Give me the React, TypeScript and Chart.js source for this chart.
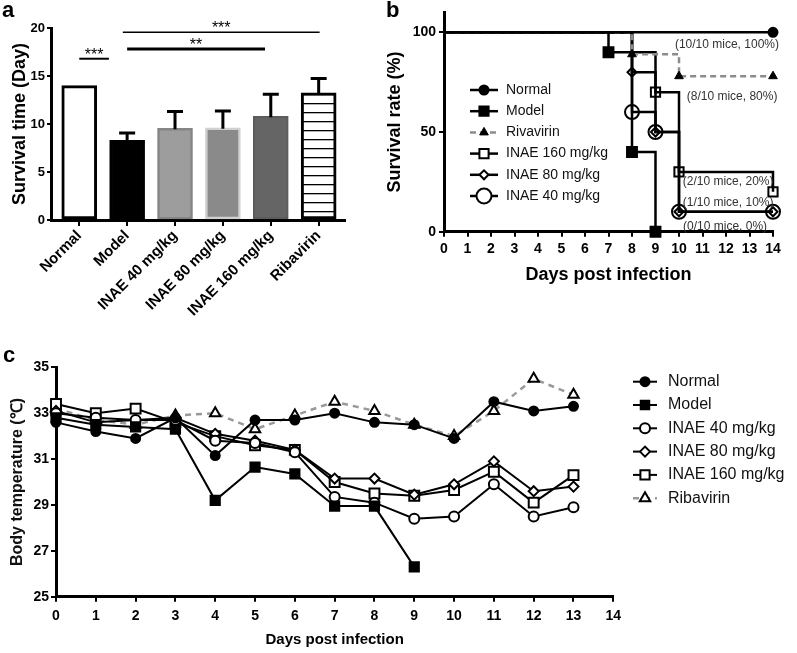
import React, { useEffect, useRef } from "react";
import { Chart, registerables } from "chart.js";
import { drawPoint } from "chart.js/helpers";

Chart.register(...registerables);

const FONT = '"Liberation Sans", Arial, Helvetica, sans-serif';

// ---------- Panel a : survival time ----------
const groupLabels = ["Normal", "Model", "INAE 40 mg/kg", "INAE 80 mg/kg", "INAE 160 mg/kg", "Ribavirin"];
const survivalTimeMean = [14.0, 8.3, 9.55, 9.6, 10.8, 13.25];
const survivalTimeSD = [0, 0.75, 1.75, 1.75, 2.3, 1.5];
const sigFrom = [0, 1.0, 0.91];
const sigTo = [0.62, 3.88, 5.02];
const sigLevel = [16.8, 17.8, 19.55];
const sigText = ["***", "**", "***"];

// ---------- Panel b : survival rate ----------
const survLabels = ["Normal", "Model", "Rivavirin", "INAE 160 mg/kg", "INAE 80 mg/kg", "INAE 40 mg/kg"];
const normalDays = [0, 14];
const normalRate = [100, 100];
const modelDays = [0, 7, 8, 9];
const modelRate = [100, 90, 40, 0];
const ribaDays = [0, 8, 10, 14];
const ribaRate = [100, 89, 78, 78];
const inae160Days = [0, 8, 9, 10, 14];
const inae160Rate = [100, 90, 70, 30, 20];
const inae80Days = [0, 8, 9, 10, 14];
const inae80Rate = [100, 80, 50, 10, 10];
const inae40Days = [0, 8, 9, 10, 14];
const inae40Rate = [100, 60, 50, 10, 10];
const noteText = ["(10/10 mice, 100%)", "(8/10 mice, 80%)", "(2/10 mice, 20%)", "(1/10 mice, 10%)", "(0/10 mice, 0%)"];
const noteDay = [12.04, 12.26, 12.09, 12.09, 11.96];
const noteRate = [93.6, 67.6, 24.9, 14.4, 2.4];

// ---------- Panel c : body temperature ----------
const tempLabels = ["Normal", "Model", "INAE 40 mg/kg", "INAE 80 mg/kg", "INAE 160 mg/kg", "Ribavirin"];
const tempDays = [0, 1, 2, 3, 4, 5, 6, 7, 8, 9, 10, 11, 12, 13];
const tempNormal = [32.6, 32.2, 31.9, 32.8, 31.15, 32.7, 32.7, 33.0, 32.6, 32.5, 31.9, 33.5, 33.1, 33.3];
const tempModel = [32.8, 32.5, 32.4, 32.3, 29.2, 30.65, 30.35, 28.95, 28.95, 26.3, null, null, null, null];
const tempINAE40 = [33.0, 32.8, 32.7, 32.7, 31.8, 31.7, 31.3, 29.35, 29.1, 28.4, 28.5, 29.9, 28.5, 28.9];
const tempINAE80 = [33.1, 32.6, 32.7, 32.8, 32.1, 31.8, 31.4, 30.15, 30.15, 29.45, 29.9, 30.9, 29.6, 29.8];
const tempINAE160 = [33.4, 33.0, 33.2, 32.6, 32.0, 31.6, 31.4, 30.0, 29.5, 29.4, 29.65, 30.45, 29.1, 30.3];
const tempRiba = [33.2, 32.7, 32.5, 32.9, 33.0, 32.3, 32.9, 33.5, 33.1, 32.5, 32.0, 33.1, 34.5, 33.8];

const xy = (xs: number[], ys: (number | null)[]) => xs.map((x, i) => ({ x, y: ys[i] }));
const eventRadius = (n: number, r: number) => Array.from({ length: n }, (_, i) => (i === 0 ? 0 : r));

function legendPlugin(id: string, x0: number, x1: number, textX: number, y0: number, dy: number, fontSize: number) {
  return {
    id,
    afterDraw(chart: any) {
      const ctx: CanvasRenderingContext2D = chart.ctx;
      ctx.save();
      chart.data.datasets.forEach((ds: any, row: number) => {
        const y = y0 + row * dy;
        ctx.beginPath();
        ctx.setLineDash(ds.borderDash || []);
        ctx.strokeStyle = ds.borderColor;
        ctx.lineWidth = ds.borderWidth;
        ctx.moveTo(x0, y);
        ctx.lineTo(x1, y);
        ctx.stroke();
        ctx.setLineDash([]);
        ctx.fillStyle = ds.legendFill || ds.pointBackgroundColor;
        ctx.strokeStyle = ds.pointBorderColor;
        ctx.lineWidth = ds.pointBorderWidth;
        drawPoint(ctx, { pointStyle: ds.pointStyle, radius: ds.legendRadius, borderWidth: ds.pointBorderWidth, rotation: 0 } as any, (x0 + x1) / 2, y);
        ctx.fillStyle = "#111";
        ctx.font = `${fontSize}px ${FONT}`;
        ctx.textAlign = "left";
        ctx.textBaseline = "middle";
        ctx.fillText(ds.label, textX, y);
      });
      ctx.restore();
    },
  };
}

function axisCommon(fontSize: number) {
  return {
    grid: { display: true, drawOnChartArea: false, drawTicks: true, tickLength: 5, color: "#000", lineWidth: 2, offset: false },
    border: { display: true, color: "#000", width: 3 },
    ticks: { font: { family: FONT, size: fontSize, weight: "bold" as const }, color: "#000" },
  };
}

function makeA(canvas: HTMLCanvasElement) {
  const pc = document.createElement("canvas");
  pc.width = 8;
  pc.height = 9;
  const p = pc.getContext("2d")!;
  p.fillStyle = "#fff";
  p.fillRect(0, 0, 8, 9);
  p.fillStyle = "#000";
  p.fillRect(0, 4, 8, 1.3);
  const stripes = canvas.getContext("2d")!.createPattern(pc, "repeat")!;

  const errPlugin = {
    id: "errBars",
    afterDatasetsDraw(chart: any) {
      const ctx: CanvasRenderingContext2D = chart.ctx;
      const meta = chart.getDatasetMeta(0);
      const ys = chart.scales.y;
      ctx.save();
      ctx.strokeStyle = "#000";
      ctx.lineWidth = 3;
      meta.data.forEach((el: any, i: number) => {
        const sd = survivalTimeSD[i];
        if (!sd) return;
        const yTop = ys.getPixelForValue(survivalTimeMean[i] + sd);
        ctx.beginPath();
        ctx.moveTo(el.x, el.y + 1);
        ctx.lineTo(el.x, yTop);
        ctx.moveTo(el.x - 8, yTop);
        ctx.lineTo(el.x + 8, yTop);
        ctx.stroke();
      });
      ctx.restore();
    },
  };
  const sigPlugin = {
    id: "sig",
    afterDraw(chart: any) {
      const ctx: CanvasRenderingContext2D = chart.ctx;
      const xs = chart.scales.x;
      const ys = chart.scales.y;
      const widths = [2, 3, 1.5];
      ctx.save();
      sigFrom.forEach((f, i) => {
        const xa = xs.getPixelForValue(f);
        const xb = xs.getPixelForValue(sigTo[i]);
        const y = ys.getPixelForValue(sigLevel[i]);
        ctx.beginPath();
        ctx.strokeStyle = "#000";
        ctx.lineWidth = widths[i];
        ctx.moveTo(xa, y);
        ctx.lineTo(xb, y);
        ctx.stroke();
        ctx.fillStyle = "#000";
        ctx.font = `16px ${FONT}`;
        ctx.textAlign = "center";
        ctx.textBaseline = "alphabetic";
        ctx.fillText(sigText[i], (xa + xb) / 2, y + 1);
      });
      ctx.restore();
    },
  };
  const c = axisCommon(13);
  return new Chart(canvas, {
    type: "bar",
    data: {
      datasets: [
        {
          data: survivalTimeMean.map((v, i) => ({ x: i, y: v })) as any,
          backgroundColor: ["#ffffff", "#000000", "#9d9d9d", "#8a8a8a", "#656565", stripes] as any,
          borderColor: ["#000000", "#000000", "#858585", "#d0d0d0", "#5c5c5c", "#000000"],
          borderWidth: [3, 3, 2.5, 2.5, 2, 3],
          borderSkipped: false,
          barThickness: 35,
        },
      ],
    },
    options: {
      animation: false,
      responsive: false,
      layout: { padding: { left: 5, top: 28, right: 25, bottom: 0 } },
      plugins: { legend: { display: false }, tooltip: { enabled: false } },
      scales: {
        x: {
          type: "linear",
          min: -0.59,
          max: 5.55,
          offset: false,
          afterBuildTicks: (s: any) => {
            s.ticks = groupLabels.map((_, i) => ({ value: i }));
          },
          afterFit: (s: any) => {
            s.height = 110;
          },
          grid: { ...c.grid, tickLength: 6 },
          border: c.border,
          ticks: {
            ...c.ticks,
            font: { family: FONT, size: 15, weight: "bold" },
            callback: (v: any) => groupLabels[v as number],
            autoSkip: false,
            maxRotation: 45,
            minRotation: 45,
            padding: 1,
          },
        },
        y: {
          min: 0,
          max: 20,
          afterFit: (s: any) => {
            s.width = 46;
          },
          grid: { ...c.grid, tickLength: 4 },
          border: c.border,
          ticks: { ...c.ticks, stepSize: 5, padding: 2 },
          title: { display: true, text: "Survival time (Day)", font: { family: FONT, size: 18, weight: "bold" }, color: "#000" },
        },
      },
    } as any,
    plugins: [errPlugin, sigPlugin],
  });
}

function makeB(canvas: HTMLCanvasElement) {
  const notePlugin = {
    id: "notes",
    afterDraw(chart: any) {
      const ctx: CanvasRenderingContext2D = chart.ctx;
      const xs = chart.scales.x;
      const ys = chart.scales.y;
      ctx.save();
      ctx.fillStyle = "#333";
      ctx.font = `12px ${FONT}`;
      ctx.textAlign = "center";
      ctx.textBaseline = "middle";
      noteText.forEach((t, i) => ctx.fillText(t, xs.getPixelForValue(noteDay[i]), ys.getPixelForValue(noteRate[i])));
      ctx.restore();
    },
  };
  const solid = { borderColor: "#000", borderWidth: 2.5, stepped: "before", clip: false, pointBorderColor: "#000", pointBorderWidth: 2 };
  const c = axisCommon(14);
  return new Chart(canvas, {
    type: "line",
    data: {
      datasets: [
        { ...solid, label: survLabels[0], data: xy(normalDays, normalRate), pointStyle: "circle", pointRadius: eventRadius(2, 4.5), pointBackgroundColor: "#000", legendRadius: 4.5 },
        { ...solid, label: survLabels[1], data: xy(modelDays, modelRate), pointStyle: "rect", pointRadius: eventRadius(4, 7), pointBackgroundColor: "#000", legendRadius: 6.5 },
        {
          ...solid,
          label: survLabels[2],
          data: xy(ribaDays, ribaRate),
          borderColor: "#8c8c8c",
          borderDash: [6, 4],
          pointStyle: "triangle",
          pointRadius: eventRadius(4, 5),
          pointBackgroundColor: "#000",
          pointBorderWidth: 1,
          legendRadius: 5,
        },
        { ...solid, label: survLabels[3], data: xy(inae160Days, inae160Rate), pointStyle: "rect", pointRadius: [0, 0, 6.5, 6.5, 6.5], pointBackgroundColor: "rgba(255,255,255,0)", legendFill: "#fff", legendRadius: 6.5 },
        { ...solid, label: survLabels[4], data: xy(inae80Days, inae80Rate), pointStyle: "rectRot", pointRadius: eventRadius(5, 4.5), pointBackgroundColor: "rgba(255,255,255,0)", legendFill: "#fff", legendRadius: 4.5 },
        { ...solid, label: survLabels[5], data: xy(inae40Days, inae40Rate), pointStyle: "circle", pointRadius: eventRadius(5, 7), pointBackgroundColor: "rgba(255,255,255,0)", legendFill: "#fff", legendRadius: 7.5 },
      ],
    },
    options: {
      animation: false,
      responsive: false,
      layout: { padding: { left: 10, top: 12.4, right: 24, bottom: 0 } },
      plugins: { legend: { display: false }, tooltip: { enabled: false } },
      scales: {
        x: {
          type: "linear",
          min: 0,
          max: 14,
          afterFit: (s: any) => {
            s.height = 58.3;
          },
          grid: c.grid,
          border: c.border,
          ticks: { ...c.ticks, stepSize: 1, autoSkip: false, maxRotation: 0, padding: 4 },
          title: { display: true, text: "Days post infection", font: { family: FONT, size: 18, weight: "bold" }, color: "#000" },
        },
        y: {
          min: 0,
          max: 110,
          afterBuildTicks: (s: any) => {
            s.ticks = [0, 50, 100].map((v) => ({ value: v }));
          },
          afterFit: (s: any) => {
            s.width = 64;
          },
          grid: c.grid,
          border: c.border,
          ticks: { ...c.ticks, padding: 3 },
          title: { display: true, text: "Survival rate (%)", font: { family: FONT, size: 18, weight: "bold" }, color: "#000" },
        },
      },
    } as any,
    plugins: [notePlugin, legendPlugin("legB", 100, 128, 136, 90, 21.2, 14)],
  });
}

function makeC(canvas: HTMLCanvasElement) {
  const base = { borderColor: "#000", borderWidth: 2, clip: false, pointBorderColor: "#000", pointBorderWidth: 2, spanGaps: false };
  const c = axisCommon(14);
  return new Chart(canvas, {
    type: "line",
    data: {
      labels: tempDays,
      datasets: [
        { ...base, label: tempLabels[0], data: xy(tempDays, tempNormal), pointStyle: "circle", pointRadius: 4.5, pointBackgroundColor: "#000", legendRadius: 4.5 },
        { ...base, label: tempLabels[1], data: xy(tempDays, tempModel), pointStyle: "rect", pointRadius: 6.5, pointBackgroundColor: "#000", legendRadius: 6 },
        { ...base, label: tempLabels[2], data: xy(tempDays, tempINAE40), pointStyle: "circle", pointRadius: 5, pointBackgroundColor: "#fff", legendRadius: 5 },
        { ...base, label: tempLabels[3], data: xy(tempDays, tempINAE80), pointStyle: "rectRot", pointRadius: 5, pointBackgroundColor: "#fff", legendRadius: 5 },
        { ...base, label: tempLabels[4], data: xy(tempDays, tempINAE160), pointStyle: "rect", pointRadius: 7, pointBackgroundColor: "#fff", legendRadius: 6.5 },
        {
          ...base,
          label: tempLabels[5],
          data: xy(tempDays, tempRiba),
          borderColor: "#999",
          borderWidth: 2.5,
          borderDash: [6, 5],
          pointStyle: "triangle",
          pointRadius: 6,
          pointBackgroundColor: "#fff",
          legendRadius: 6,
        },
      ],
    },
    options: {
      animation: false,
      responsive: false,
      layout: { padding: { left: 4.4, top: 37.3, right: 183.7, bottom: 0 } },
      plugins: { legend: { display: false }, tooltip: { enabled: false } },
      scales: {
        x: {
          type: "linear",
          min: 0,
          max: 14,
          afterFit: (s: any) => {
            s.height = 56.3;
          },
          grid: c.grid,
          border: c.border,
          ticks: { ...c.ticks, stepSize: 1, autoSkip: false, maxRotation: 0, padding: 6 },
          title: { display: true, text: "Days post infection", font: { family: FONT, size: 15, weight: "bold" }, color: "#000" },
        },
        y: {
          min: 25,
          max: 35,
          afterFit: (s: any) => {
            s.width = 51.6;
          },
          grid: c.grid,
          border: c.border,
          ticks: { ...c.ticks, stepSize: 2, padding: 2 },
          title: { display: true, text: "Body temperature (℃)", font: { family: FONT, size: 16, weight: "600" }, color: "#111" },
        },
      },
    } as any,
    plugins: [legendPlugin("legC", 633, 657, 668, 51.7, 23.3, 16)],
  });
}

export default function App() {
  const aRef = useRef<HTMLCanvasElement>(null);
  const bRef = useRef<HTMLCanvasElement>(null);
  const cRef = useRef<HTMLCanvasElement>(null);
  useEffect(() => {
    const charts = [makeA(aRef.current!), makeB(bRef.current!), makeC(cRef.current!)];
    return () => charts.forEach((ch) => ch.destroy());
  }, []);
  const lbl = { position: "absolute" as const, fontFamily: FONT, fontWeight: "bold" as const, fontSize: 22, lineHeight: "22px", color: "#000" };
  return (
    <div style={{ position: "fixed", left: 0, top: 0, width: 797, height: 653, background: "#fff", overflow: "hidden" }}>
      <canvas ref={aRef} width={370} height={330} style={{ position: "absolute", left: 0, top: 0, width: 370, height: 330 }} />
      <canvas ref={bRef} width={427} height={290} style={{ position: "absolute", left: 370, top: 0, width: 427, height: 290 }} />
      <canvas ref={cRef} width={797} height={323} style={{ position: "absolute", left: 0, top: 330, width: 797, height: 323 }} />
      <div style={{ ...lbl, left: 2, top: -1 }}>a</div>
      <div style={{ ...lbl, left: 386, top: -1 }}>b</div>
      <div style={{ ...lbl, left: 3, top: 344 }}>c</div>
    </div>
  );
}
